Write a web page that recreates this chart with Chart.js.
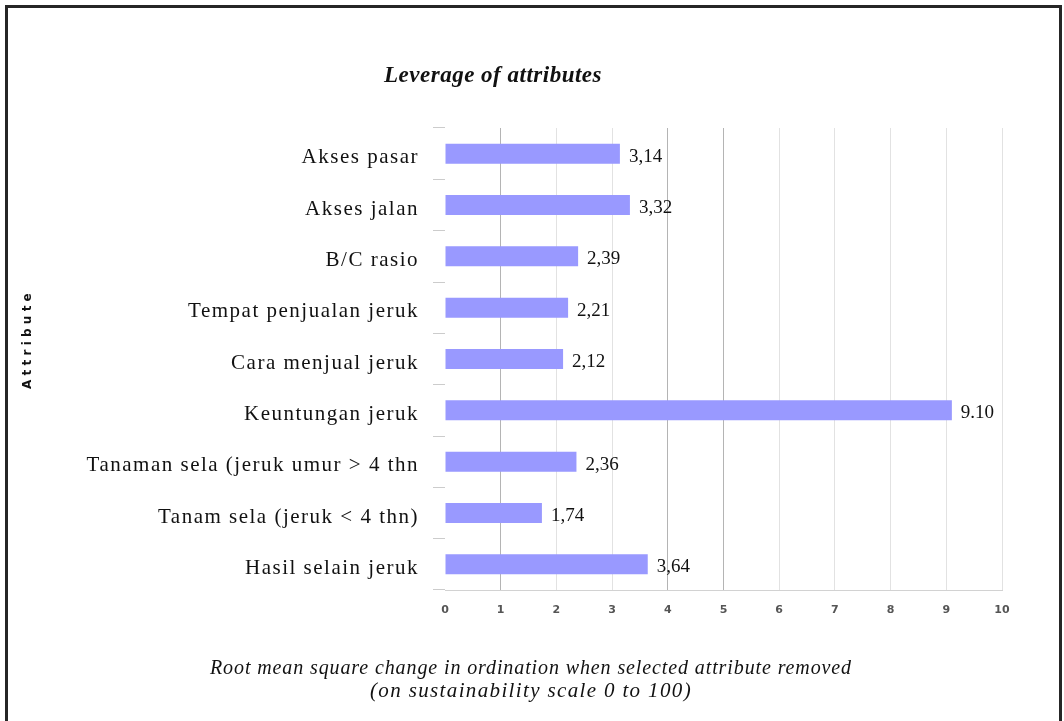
<!DOCTYPE html>
<html>
<head>
<meta charset="utf-8">
<script src="https://cdn.jsdelivr.net/npm/chart.js@4.4.0/dist/chart.umd.min.js"></script>
<style>
  html, body { margin: 0; padding: 0; background: #fff; overflow: hidden; }
  #frame { position: absolute; left: 5px; top: 5px; width: 1051px; height: 730px; border: 3px solid #262626; border-bottom: none; }
  #wrap { position: absolute; left: 0; top: 0; width: 1064px; height: 721px; }
</style>
</head>
<body>
<div id="frame"></div>
<div id="wrap"><canvas id="myChart" width="1064" height="721"></canvas></div>
<script>
var attributes = ['Akses pasar', 'Akses jalan', 'B/C rasio', 'Tempat penjualan jeruk', 'Cara menjual jeruk',
                  'Keuntungan jeruk', 'Tanaman sela (jeruk umur > 4 thn', 'Tanam sela (jeruk < 4 thn)', 'Hasil selain jeruk']
var leverage = [3.14, 3.32, 2.39, 2.21, 2.12, 9.10, 2.36, 1.74, 3.64]
var valueText = ['3,14', '3,32', '2,39', '2,21', '2,12', '9.10', '2,36', '1,74', '3,64']
var xMin = 0
var xMax = 10
var xStep = 1

var chartTitle = 'Leverage of attributes'
var yTitle = 'Attribute'
var xTitle = ['Root mean square change in ordination when selected attribute removed',
              '(on sustainability scale 0 to 100)']

// draws text stretched to a given width with letter spacing
function drawSpread(ctx, text, cx, cy, width) {
  ctx.letterSpacing = '0px'
  var w = ctx.measureText(text).width
  var sp = (width - w) / text.length
  ctx.letterSpacing = sp + 'px'
  ctx.textAlign = 'left'
  ctx.fillText(text, cx - width / 2, cy)
  ctx.letterSpacing = '0px'
}

var textPlugin = {
  id: 'texts',
  afterDatasetsDraw: function(chart) {
    var ctx = chart.ctx
    var meta = chart.getDatasetMeta(0)
    ctx.save()
    ctx.font = '19px "Liberation Serif"'
    ctx.fillStyle = '#111'
    ctx.textAlign = 'left'
    ctx.textBaseline = 'middle'
    meta.data.forEach(function(bar, i) {
      ctx.fillText(valueText[i], bar.x + 9, bar.y + 3)
    })
    ctx.restore()
    // wide category labels come next (y ticks z = 1)
    ctx.letterSpacing = '1.5px'
  },
  afterDraw: function(chart) {
    var ctx = chart.ctx
    ctx.letterSpacing = '0px'
    ctx.save()
    ctx.fillStyle = '#111'
    ctx.textBaseline = 'middle'
    ctx.font = 'bold italic 23px "Liberation Serif"'
    drawSpread(ctx, chartTitle, 493, 76, 218)

    ctx.font = 'italic 20px "Liberation Serif"'
    drawSpread(ctx, xTitle[0], 531, 669, 642)
    ctx.font = 'italic 21px "Liberation Serif"'
    drawSpread(ctx, xTitle[1], 531, 691, 322)

    ctx.translate(28, 339)
    ctx.rotate(-Math.PI / 2)
    ctx.font = 'bold 12px "DejaVu Sans"'
    drawSpread(ctx, yTitle, 0, 0, 100)
    ctx.restore()
  }
}

var ctx = document.getElementById('myChart').getContext('2d')

var chart = new Chart(ctx, {
  type: 'bar',
  data: {
    labels: attributes,
    datasets: [{
      data: leverage,
      backgroundColor: '#9999ff',
      categoryPercentage: 1,
      barPercentage: 0.39
    }]
  },
  options: {
    indexAxis: 'y',
    responsive: false,
    animation: false,
    devicePixelRatio: 1,
    layout: { padding: { top: 128, right: 62, left: 0, bottom: 0 } },
    plugins: {
      legend: { display: false },
      tooltip: { enabled: false }
    },
    scales: {
      x: {
        min: xMin,
        max: xMax,
        ticks: {
          stepSize: xStep,
          font: { family: 'DejaVu Sans', size: 11, weight: 'bold' },
          color: '#555',
          padding: 14
        },
        grid: {
          drawTicks: false,
          color: function(c) {
            var v = c.tick ? c.tick.value : -1
            if (v === 0) return 'rgba(0,0,0,0)'
            return (v === 1 || v === 4 || v === 5) ? '#b4b4b4' : '#e2e2e2'
          }
        },
        border: { color: '#d2d2d2' },
        afterFit: function(scale) { scale.height = 131 }
      },
      y: {
        grid: { drawOnChartArea: false, tickLength: 12, color: '#cccccc', offset: true },
        border: { display: false },
        ticks: {
          font: { family: 'Liberation Serif', size: 21 },
          color: '#111',
          padding: 14,
          labelOffset: 4,
          z: 1
        },
        afterFit: function(scale) { scale.width = 445 }
      }
    }
  },
  plugins: [textPlugin]
})
</script>
</body>
</html>
